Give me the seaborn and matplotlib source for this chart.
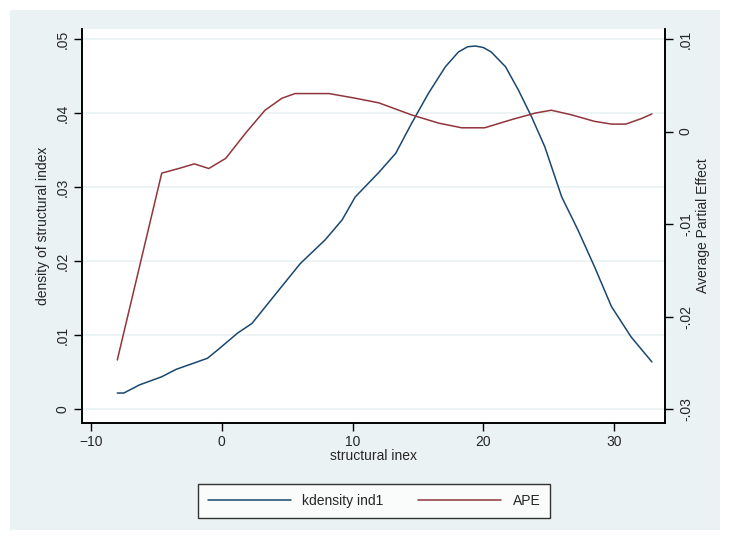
import matplotlib
matplotlib.use("Agg")
import matplotlib.pyplot as plt
import numpy as np
import pandas as pd
import seaborn as sns
from matplotlib.patches import Rectangle
from matplotlib.lines import Line2D
from matplotlib.ticker import FuncFormatter

# kernel density of the structural index (left axis)
dens_x = [-8.0, -7.5, -6.3, -4.6, -3.5, -1.1, -0.2, 1.2, 2.3, 4.35, 6.0, 7.9, 9.2, 10.2,
          12.0, 13.3, 14.5, 15.8, 17.1, 18.1, 18.8, 19.4, 20.0, 20.6, 21.7, 22.7, 23.7,
          24.7, 26.0, 27.25, 28.5, 29.8, 31.3, 32.9]
dens_y = [0.0022, 0.0022, 0.0033, 0.0044, 0.0054, 0.0069, 0.0082, 0.0103, 0.0116, 0.0161,
          0.0197, 0.0229, 0.0256, 0.0287, 0.0320, 0.0346, 0.0386, 0.0427, 0.0463, 0.0483,
          0.0490, 0.0491, 0.0489, 0.0483, 0.0463, 0.0431, 0.0395, 0.0355, 0.0287, 0.0242,
          0.0193, 0.0139, 0.0098, 0.0064]

# average partial effect (right axis)
ape_x = [-8.0, -6.3, -4.6, -3.3, -2.1, -1.0, 0.3, 1.8, 3.3, 4.6, 5.6, 8.2, 10.2, 12.0,
         14.5, 16.6, 18.35, 20.1, 22.2, 24.0, 25.2, 26.75, 28.5, 29.8, 30.9, 32.1, 32.9]
ape_y = [-0.0247, -0.0146, -0.0045, -0.0040, -0.0035, -0.0040, -0.0029, -0.0002, 0.0023,
         0.0036, 0.0041, 0.0041, 0.0036, 0.0031, 0.0018, 0.0009, 0.0004, 0.0004, 0.0013,
         0.0020, 0.0023, 0.0018, 0.0011, 0.0008, 0.0008, 0.0014, 0.0019]

left_ticks = [0, 0.01, 0.02, 0.03, 0.04, 0.05]
right_ticks = [-0.03, -0.02, -0.01, 0, 0.01]
x_ticks = [-10, 0, 10, 20, 30]

NAVY = "#1a476f"
MAROON = "#90353b"
BG = "#eaf2f3"

sns.set_theme(style="white")
plt.rcParams["font.family"] = ["Liberation Sans", "DejaVu Sans"]


def stata_fmt(v, _pos):
    if abs(v) < 1e-12:
        return "0"
    s = f"{v:g}"
    return s.replace("0.", ".")


fig = plt.figure(figsize=(7.3, 5.36), dpi=100, facecolor="white")
fig.patches.append(Rectangle((10 / 730, 6 / 536), 710 / 730, 520 / 536,
                             transform=fig.transFigure, facecolor=BG,
                             edgecolor="none", zorder=-10))

ax = fig.add_axes([82 / 730, 1 - 423 / 536, 583 / 730, 394 / 536])
ax.set_facecolor("white")
dens = pd.DataFrame({"x": dens_x, "y": dens_y})
sns.lineplot(data=dens, x="x", y="y", ax=ax, color=NAVY, lw=1.1, sort=False)
ax.set_xlim(-10.7, 33.9)
ax.set_ylim(-0.00185, 0.0514)
ax.set_yticks(left_ticks)
ax.set_xticks(x_ticks)
ax.yaxis.set_major_formatter(FuncFormatter(stata_fmt))
ax.grid(axis="y", color=BG, lw=1.2)
ax.set_axisbelow(True)
ax.set_xlabel("structural inex", fontsize=10, labelpad=0)
ax.set_ylabel("density of structural index", fontsize=10, labelpad=4)
for lab in ax.get_yticklabels():
    lab.set_rotation(90)
    lab.set_va("center")
ax.tick_params(axis="both", direction="out", length=6, width=1, labelsize=10,
               color="black", left=True, bottom=True, pad=3)

ax2 = ax.twinx()
ape = pd.DataFrame({"x": ape_x, "y": ape_y})
sns.lineplot(data=ape, x="x", y="y", ax=ax2, color=MAROON, lw=1.1, sort=False)
ax2.set_ylim(-0.03151, 0.01108)
ax2.set_yticks(right_ticks)
ax2.yaxis.set_major_formatter(FuncFormatter(stata_fmt))
ax2.set_ylabel("Average Partial Effect", fontsize=10, labelpad=2)
ax2.yaxis.set_label_position("right")
for lab in ax2.get_yticklabels():
    lab.set_rotation(90)
    lab.set_va("center")
ax2.tick_params(axis="y", direction="out", length=6, width=1, labelsize=10,
                color="black", right=True, pad=4)
ax2.grid(False)

for a in (ax, ax2):
    a.spines["top"].set_visible(False)
    for side in ("left", "bottom", "right"):
        a.spines[side].set_color("black")
        a.spines[side].set_linewidth(1.2)

handles = [Line2D([], [], color=NAVY, lw=1.1), Line2D([], [], color=MAROON, lw=1.1)]
leg = fig.legend(handles, ["kdensity ind1", "APE"], loc="center",
                 bbox_to_anchor=(374 / 730, 1 - 501 / 536), ncol=2, frameon=True,
                 fancybox=False, edgecolor="black", handlelength=6, columnspacing=2.5,
                 fontsize=10, borderpad=0.7)
leg.get_frame().set_linewidth(1.0)

fig.savefig("out.png", dpi=100, facecolor="white")
